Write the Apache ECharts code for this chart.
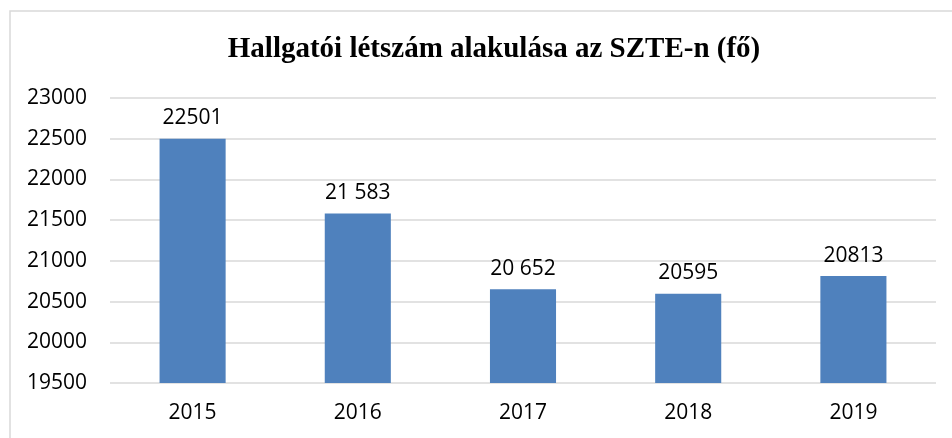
<!DOCTYPE html>
<html>
<head>
<meta charset="utf-8">
<script src="https://cdn.jsdelivr.net/npm/echarts@6/dist/echarts.min.js"></script>
<style>
  html, body { margin: 0; padding: 0; background: #fff; }
  #chart { width: 952px; height: 438px; }
</style>
</head>
<body>
<div id="chart"></div>
<script>
var years = ['2015', '2016', '2017', '2018', '2019'];
var students = [22501, 21583, 20652, 20595, 20813];
// labels as printed in the original (mixed formatting)
var valueLabels = ['22501', '21 583', '20 652', '20595', '20813'];
var yTicks = [19500, 20000, 20500, 21000, 21500, 22000, 22500, 23000];

var myChart = echarts.init(document.getElementById('chart'));
var option = {
    animation: false,
    title: {
        text: 'Hallgatói létszám alakulása az SZTE-n (fő)',
        left: 489,
        textAlign: 'center',
        top: 30,
        textStyle: {
            fontFamily: 'Liberation Serif',
            fontWeight: 'bold',
            fontSize: 29,
            color: '#000'
        }
    },
    graphic: [{
        type: 'rect',
        shape: { x: 10, y: 11, width: 960, height: 450 },
        style: { fill: 'none', stroke: '#d9d9d9', lineWidth: 1.5 },
        silent: true
    }],
    grid: { left: 110, right: 16, top: 98, bottom: 55 },
    xAxis: {
        type: 'category',
        data: years,
        axisLine: { show: false },
        axisTick: { show: false },
        axisLabel: {
            margin: 20,
            fontFamily: 'Open Sans',
            fontSize: 21,
            color: '#000'
        }
    },
    yAxis: {
        type: 'value',
        min: yTicks[0],
        max: yTicks[yTicks.length - 1],
        interval: 500,
        axisLine: { show: false },
        axisTick: { show: false },
        axisLabel: {
            margin: 23,
            fontFamily: 'Open Sans',
            fontSize: 21,
            color: '#000',
            formatter: function (v) { return String(v); }
        },
        splitLine: { lineStyle: { color: '#d9d9d9', width: 1.5 } }
    },
    series: [{
        type: 'bar',
        data: students,
        barWidth: '40%',
        itemStyle: { color: '#4f81bd' },
        label: {
            show: true,
            position: 'top',
            distance: 10,
            fontFamily: 'Open Sans',
            fontSize: 21,
            color: '#000',
            formatter: function (p) { return valueLabels[p.dataIndex]; }
        }
    }]
};
myChart.setOption(option);
</script>
</body>
</html>
